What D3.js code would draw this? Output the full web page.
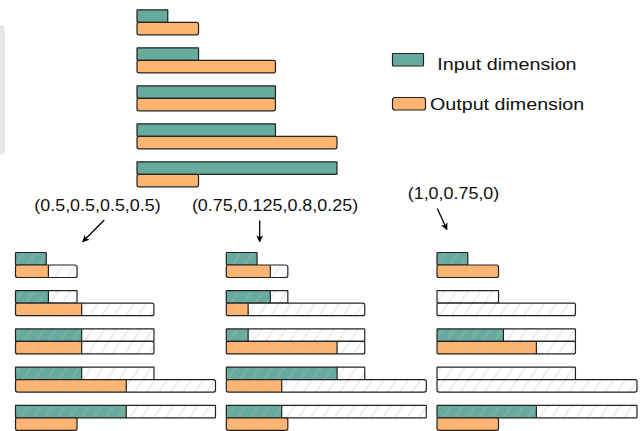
<!DOCTYPE html>
<html>
<head>
<meta charset="utf-8">
<script src="https://cdn.jsdelivr.net/npm/d3@7"></script>
<style>
  html, body { margin: 0; padding: 0; background: #fff; }
  svg { display: block; }
</style>
</head>
<body>
<svg id="chart" width="643" height="431"></svg>
<script>
// ---- data ----
const layers = ["L1", "L2", "L3", "L4", "L5"];
const inputDims  = [1, 2, 4.5, 4.5, 6.5];
const outputDims = [2, 4.5, 4.5, 6.5, 2];
const configLabels = ["(0.5,0.5,0.5,0.5)", "(0.75,0.125,0.8,0.25)", "(1,0,0.75,0)"];
const keptInputA  = [1, 1.07, 2.15, 2.15, 3.6];
const keptOutputA = [1.07, 2.15, 2.15, 3.6, 2];
const keptInputB  = [1, 1.43, 0.71, 3.6, 1.8];
const keptOutputB = [1.43, 0.71, 3.6, 1.8, 2];
const keptInputC  = [1, 0, 2.16, 0, 3.23];
const keptOutputC = [2, 0, 3.23, 0, 2];
const legendLabels = ["Input dimension", "Output dimension"];

const keptIn = [keptInputA, keptInputB, keptInputC];
const keptOut = [keptOutputA, keptOutputB, keptOutputC];

// ---- style ----
const TEAL = "#67AB9F", ORANGE = "#FFB570", STROKE = "#222", SW = 1.2;
const FONT = "'Liberation Sans', Arial, sans-serif";
const SX = 1.12; // horizontal stretch of text in reference

const svg = d3.select("#chart");
const defs = svg.append("defs");
const pat = defs.append("pattern").attr("id", "hatch")
  .attr("patternUnits", "userSpaceOnUse").attr("width", 10).attr("height", 10)
  .attr("patternTransform", "rotate(34)");
pat.append("line").attr("x1", 1).attr("y1", 0).attr("x2", 1).attr("y2", 10)
  .attr("stroke", "#b8b8b8").attr("stroke-opacity", 0.5).attr("stroke-width", 1);
defs.append("marker").attr("id", "arrow").attr("viewBox", "0 0 10 10")
  .attr("refX", 9).attr("refY", 5).attr("markerWidth", 7).attr("markerHeight", 7)
  .attr("markerUnits", "userSpaceOnUse").attr("orient", "auto")
  .append("path").attr("d", "M0,0 L10,5 L0,10 L2.5,5 Z").attr("fill", "#000");

// gray panel at left edge
svg.append("rect").attr("x", -6).attr("y", 25).attr("width", 11).attr("height", 130)
  .attr("rx", 5).attr("fill", "#e6e6e6");

const x = d3.scaleLinear().domain([0, 6.5]).range([0, 200]);
const BH = 12.5;

function bar(g, x0, y, full, kept, color, rounded, hatched) {
  const rx = rounded ? 2 : 0.5;
  g.append("rect").attr("x", x0).attr("y", y).attr("width", x(full)).attr("height", BH)
    .attr("rx", rx).attr("fill", "#fff");
  if (kept > 0) {
    g.append("rect").attr("x", x0).attr("y", y).attr("width", x(kept)).attr("height", BH)
      .attr("rx", rx).attr("fill", color);
  }
  if (hatched) {
    g.append("rect").attr("x", x0).attr("y", y).attr("width", x(full)).attr("height", BH)
      .attr("rx", rx).attr("fill", "url(#hatch)");
  }
  g.append("rect").attr("x", x0).attr("y", y).attr("width", x(full)).attr("height", BH)
    .attr("rx", rx).attr("fill", "none").attr("stroke", STROKE).attr("stroke-width", SW);
  if (kept > 0 && kept < full) {
    g.append("line").attr("x1", x0 + x(kept)).attr("x2", x0 + x(kept))
      .attr("y1", y).attr("y2", y + BH).attr("stroke", STROKE).attr("stroke-width", SW);
  }
}

// ---- top chart ----
const yTop = d3.scaleLinear().domain([0, 4]).range([9.8, 161.8]);
const gTop = svg.append("g");
layers.forEach((l, i) => {
  bar(gTop, 137, yTop(i), inputDims[i], inputDims[i], TEAL, false, false);
  bar(gTop, 137, yTop(i) + BH, outputDims[i], outputDims[i], ORANGE, true, false);
});

// ---- legend ----
const lg = svg.append("g");
lg.append("rect").attr("x", 392.5).attr("y", 53.5).attr("width", 31).attr("height", 12.5)
  .attr("rx", 0.5).attr("fill", TEAL).attr("stroke", STROKE).attr("stroke-width", SW);
lg.append("rect").attr("x", 392.5).attr("y", 97.5).attr("width", 33).attr("height", 12.5)
  .attr("rx", 2.5).attr("fill", ORANGE).attr("stroke", STROKE).attr("stroke-width", SW);
lg.append("text").attr("transform", `translate(437.3,69.8) scale(1.148,1)`)
  .attr("font-family", FONT).attr("font-size", 17.2).attr("fill", "#111").text(legendLabels[0]);
lg.append("text").attr("transform", `translate(430,110) scale(1.145,1)`)
  .attr("font-family", FONT).attr("font-size", 17.2).attr("fill", "#111").text(legendLabels[1]);

// ---- bottom panels ----
const panelX = [15.5, 226.3, 437];
const yBot = d3.scaleLinear().domain([0, 4]).range([252.5, 405.3]);
panelX.forEach((px, p) => {
  const g = svg.append("g");
  layers.forEach((l, i) => {
    bar(g, px, yBot(i), inputDims[i], keptIn[p][i], TEAL, false, true);
    bar(g, px, yBot(i) + BH, outputDims[i], keptOut[p][i], ORANGE, true, true);
  });
});

// ---- config labels & arrows ----
const labelPos = [[97.5, 211], [275, 211], [453.5, 199]];
configLabels.forEach((t, k) => {
  svg.append("text").attr("transform", `translate(${labelPos[k][0]},${labelPos[k][1]}) scale(${SX},1)`)
    .attr("text-anchor", "middle").attr("font-family", FONT).attr("font-size", 16)
    .attr("fill", "#111").text(t);
});
const arrows = [[104.3, 220, 82.7, 241.7], [259.7, 220.5, 259.7, 241.7], [437.3, 208.5, 446.9, 229.5]];
arrows.forEach(a => {
  svg.append("line").attr("x1", a[0]).attr("y1", a[1]).attr("x2", a[2]).attr("y2", a[3])
    .attr("stroke", "#000").attr("stroke-width", 1.3).attr("marker-end", "url(#arrow)");
});
</script>
</body>
</html>
